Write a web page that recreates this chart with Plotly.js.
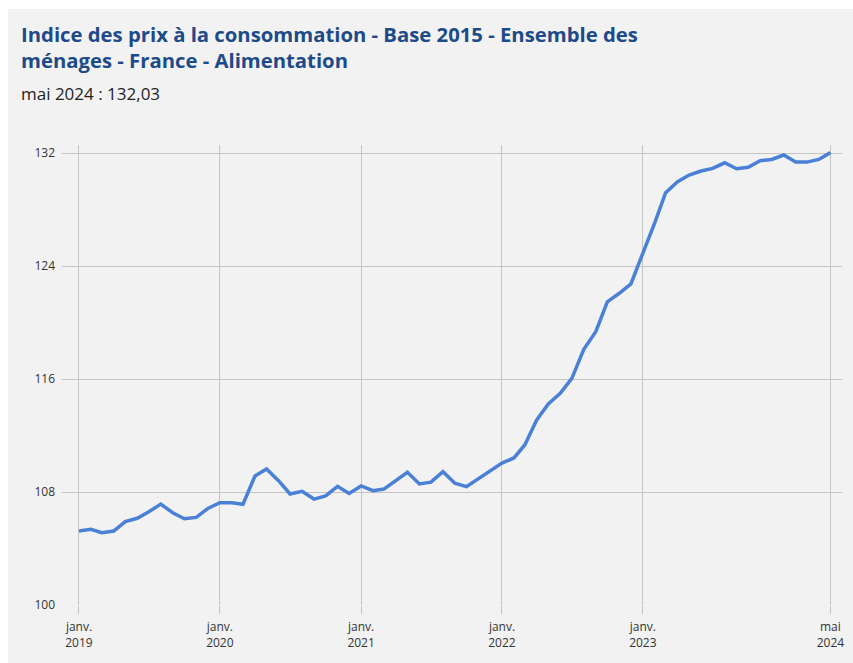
<!DOCTYPE html>
<html>
<head>
<meta charset="utf-8">
<script src="https://cdn.plot.ly/plotly-3.0.1.min.js"></script>
<style>
  html, body { margin: 0; padding: 0; background: #ffffff; }
  #chart { position: absolute; left: 8px; top: 9px; width: 845px; height: 654px; }
</style>
</head>
<body>
<div id="chart"></div>
<script>
// Monthly dates Jan 2019 - May 2024
const months = [
  "2019-01-01","2019-02-01","2019-03-01","2019-04-01","2019-05-01","2019-06-01","2019-07-01","2019-08-01","2019-09-01","2019-10-01","2019-11-01","2019-12-01",
  "2020-01-01","2020-02-01","2020-03-01","2020-04-01","2020-05-01","2020-06-01","2020-07-01","2020-08-01","2020-09-01","2020-10-01","2020-11-01","2020-12-01",
  "2021-01-01","2021-02-01","2021-03-01","2021-04-01","2021-05-01","2021-06-01","2021-07-01","2021-08-01","2021-09-01","2021-10-01","2021-11-01","2021-12-01",
  "2022-01-01","2022-02-01","2022-03-01","2022-04-01","2022-05-01","2022-06-01","2022-07-01","2022-08-01","2022-09-01","2022-10-01","2022-11-01","2022-12-01",
  "2023-01-01","2023-02-01","2023-03-01","2023-04-01","2023-05-01","2023-06-01","2023-07-01","2023-08-01","2023-09-01","2023-10-01","2023-11-01","2023-12-01",
  "2024-01-01","2024-02-01","2024-03-01","2024-04-01","2024-05-01"
];
const ipcAlimentation = [
  105.24,105.36,105.12,105.24,105.90,106.14,106.60,107.15,106.53,106.11,106.20,106.84,
  107.24,107.24,107.13,109.13,109.63,108.80,107.86,108.05,107.50,107.72,108.40,107.90,
  108.43,108.09,108.21,108.80,109.40,108.57,108.70,109.44,108.62,108.38,108.92,109.49,
  110.05,110.41,111.33,113.10,114.23,114.99,116.05,118.10,119.35,121.47,122.07,122.73,
  124.85,127.08,129.19,129.97,130.44,130.73,130.91,131.31,130.89,130.99,131.46,131.55,
  131.86,131.36,131.36,131.55,132.03
];
const yTicks = [100, 108, 116, 124, 132];
const xTickVals = ["2019-01-01","2020-01-01","2021-01-01","2022-01-01","2023-01-01","2024-05-01"];
const xTickText = ["janv.<br>2019","janv.<br>2020","janv.<br>2021","janv.<br>2022","janv.<br>2023","mai<br>2024"];
const titleLines = ["Indice des prix à la consommation - Base 2015 - Ensemble des", "ménages - France - Alimentation"];
const subtitle = "mai 2024 : 132,03";

const gridColor = "#c4c4c4";

const trace = {
  x: months,
  y: ipcAlimentation,
  type: "scatter",
  mode: "lines",
  line: { color: "#4a80d6", width: 3.5 },
  hoverinfo: "x+y"
};

const layout = {
  width: 845,
  height: 654,
  paper_bgcolor: "#f2f2f2",
  plot_bgcolor: "#f2f2f2",
  margin: { l: 54, r: 11, t: 136, b: 58 },
  showlegend: false,
  font: { family: "Open Sans, sans-serif", color: "#333333", size: 12 },
  xaxis: {
    type: "date",
    range: ["2018-11-18", "2024-05-31"],
    tickvals: xTickVals,
    ticktext: xTickText,
    showgrid: true,
    gridcolor: gridColor,
    gridwidth: 1,
    ticks: "outside",
    ticklen: 8,
    tickcolor: gridColor,
    showline: false,
    zeroline: false,
    ticklabelstandoff: 3,
    tickfont: { size: 12, color: "#333333" },
    fixedrange: true
  },
  yaxis: {
    range: [100, 132.57],
    tickvals: yTicks,
    ticktext: yTicks.map(String),
    showgrid: true,
    gridcolor: gridColor,
    gridwidth: 1,
    showline: false,
    zeroline: false,
    ticks: "",
    ticklabelstandoff: 6,
    tickfont: { size: 12, color: "#333333" },
    fixedrange: true
  },
  annotations: [
    { text: "<b>" + titleLines[0] + "</b>", xref: "paper", yref: "paper", x: -0.0551, y: 1.241, xanchor: "left", yanchor: "middle", showarrow: false,
      font: { family: "Open Sans, sans-serif", size: 20.3, color: "#1d4a88" } },
    { text: "<b>" + titleLines[1] + "</b>", xref: "paper", yref: "paper", x: -0.0551, y: 1.185, xanchor: "left", yanchor: "middle", showarrow: false,
      font: { family: "Open Sans, sans-serif", size: 20.3, color: "#1d4a88" } },
    { text: subtitle, xref: "paper", yref: "paper", x: -0.0551, y: 1.113, xanchor: "left", yanchor: "middle", showarrow: false,
      font: { family: "Open Sans, sans-serif", size: 17, color: "#222222" } }
  ]
};

Plotly.newPlot("chart", [trace], layout, { displayModeBar: false, staticPlot: true });
</script>
</body>
</html>
